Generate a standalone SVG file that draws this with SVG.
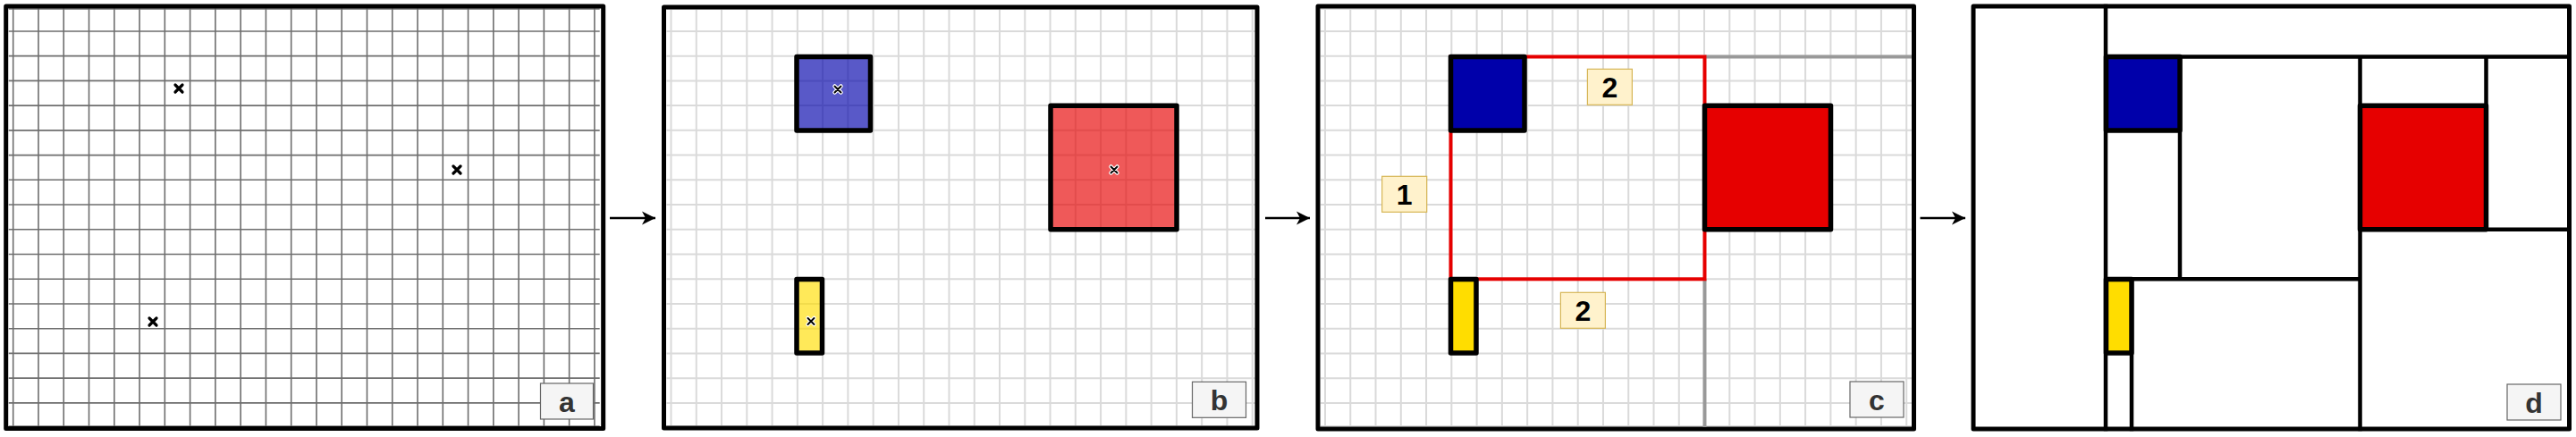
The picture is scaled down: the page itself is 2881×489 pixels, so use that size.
<svg xmlns="http://www.w3.org/2000/svg" xmlns:xlink="http://www.w3.org/1999/xlink" width="2881" height="489" viewBox="0 0 2881 489">
<style>
.panel{fill:none;stroke:#000;stroke-width:5;stroke-linejoin:round}
.gridA{fill:none;stroke:#6e6e6e;stroke-width:1.6}
.gridB{fill:none;stroke:#dadada;stroke-width:2}
.box{stroke:#000;stroke-width:5.5;stroke-linejoin:round}
.dline{stroke:#000;stroke-width:4.5;fill:none;stroke-linecap:square}
.lbl{fill:#f5f5f5;stroke:#666;stroke-width:1.2}
.lbltxt{font-family:"Liberation Sans",Arial,sans-serif;font-weight:bold;font-size:32px;fill:#333;text-anchor:middle}
.num{fill:#fff2cc;stroke:#d6b656;stroke-width:1.2}
.numtxt{font-family:"Liberation Sans",Arial,sans-serif;font-weight:bold;font-size:32px;fill:#000;text-anchor:middle}
.conn{stroke:#000;stroke-width:2.7;fill:none}
.xa{stroke:#000;stroke-width:3.2;stroke-linecap:round}
.xh{stroke:#fff;stroke-width:4.5;stroke-linecap:round}
.xb{stroke:#000;stroke-width:1.9;stroke-linecap:round}
</style>
<defs>
<path id="grid" d="M8,9V478M36.27,9V478M64.54,9V478M92.81,9V478M121.08,9V478M149.35,9V478M177.62,9V478M205.89,9V478M234.16,9V478M262.43,9V478M290.7,9V478M318.97,9V478M347.24,9V478M375.51,9V478M403.78,9V478M432.05,9V478M460.32,9V478M488.59,9V478M516.86,9V478M545.13,9V478M573.4,9V478M601.67,9V478M629.94,9V478M658.21,9V478M3,10H664M3,34.93H664M3,62.66H664M3,90.39H664M3,118.12H664M3,145.85H664M3,173.58H664M3,201.31H664M3,229.04H664M3,256.77H664M3,284.5H664M3,312.23H664M3,339.96H664M3,367.69H664M3,395.42H664M3,423.15H664M3,450.88H664M3,477H664"/>
<marker id="arr" markerUnits="userSpaceOnUse" markerWidth="17" markerHeight="17" refX="15" refY="8" orient="auto" overflow="visible">
<path d="M0,0.5L15,8L0,15.5L4,8Z" fill="#000"/>
</marker>
</defs>
<rect width="2881" height="489" fill="#fff"/>

<g id="panel-a">
<use xlink:href="#grid" href="#grid" x="6.7" y="0" class="gridA"/>
<rect class="panel" x="6.7" y="7" width="668" height="472.5"/>
<g id="a-points">
<path class="xa" d="M196,95L204,103M204,95L196,103"/>
<path class="xa" d="M507,186L515,194M515,186L507,194"/>
<path class="xa" d="M167,356L175,364M175,356L167,364"/>
</g>
<rect class="lbl" x="604.5" y="429" width="59" height="40"/>
<text class="lbltxt" x="634" y="461">a</text>
</g>

<g id="panel-b">
<use xlink:href="#grid" href="#grid" x="742.5" y="0" class="gridB"/>
<rect class="panel" x="742.5" y="8" width="663.5" height="471"/>
<rect id="b-blue" class="box" x="891" y="63.5" width="82.5" height="82.5" fill="#0000aa" fill-opacity="0.65"/>
<rect id="b-red" class="box" x="1175" y="118.3" width="141" height="138.4" fill="#e60000" fill-opacity="0.65"/>
<rect id="b-yellow" class="box" x="891" y="312.5" width="28.5" height="82.5" fill="#ffdd00" fill-opacity="0.65"/>
<g id="b-points">
<path class="xh" d="M933.5,96.5L940.5,103.5M940.5,96.5L933.5,103.5"/>
<path class="xb" d="M933.5,96.5L940.5,103.5M940.5,96.5L933.5,103.5"/>
<path class="xh" d="M1242.5,186.5L1249.5,193.5M1249.5,186.5L1242.5,193.5"/>
<path class="xb" d="M1242.5,186.5L1249.5,193.5M1249.5,186.5L1242.5,193.5"/>
<path class="xh" d="M903.5,356L910.5,363M910.5,356L903.5,363"/>
<path class="xb" d="M903.5,356L910.5,363M910.5,356L903.5,363"/>
</g>
<rect class="lbl" x="1333.5" y="427.3" width="60" height="40"/>
<text class="lbltxt" x="1363.5" y="459.3">b</text>
</g>

<g id="panel-c">
<use xlink:href="#grid" href="#grid" x="1474" y="0" class="gridB"/>
<rect class="panel" x="1474" y="7" width="666.5" height="473"/>
<path id="c-guides" d="M1906.5,63.5H2138M1906.5,312.3V478" stroke="#999" stroke-width="4" fill="none"/>
<rect id="c-region" x="1622.5" y="63.5" width="284" height="248.8" fill="none" stroke="#e60000" stroke-width="4"/>
<rect id="c-blue" class="box" x="1622.5" y="63.5" width="82.5" height="82.5" fill="#0000aa"/>
<rect id="c-red" class="box" x="1906.5" y="118.3" width="141" height="138.4" fill="#e60000"/>
<rect id="c-yellow" class="box" x="1622.5" y="312.5" width="28.5" height="82.5" fill="#ffdd00"/>
<g id="c-label-top">
<rect class="num" x="1775.4" y="77.3" width="50" height="40"/>
<text class="numtxt" x="1800.4" y="109.3">2</text>
</g>
<g id="c-label-left">
<rect class="num" x="1545.7" y="197.3" width="50" height="40"/>
<text class="numtxt" x="1570.7" y="229.3">1</text>
</g>
<g id="c-label-bottom">
<rect class="num" x="1745.4" y="327.3" width="50" height="40"/>
<text class="numtxt" x="1770.4" y="359.3">2</text>
</g>
<rect class="lbl" x="2069" y="427" width="60" height="40"/>
<text class="lbltxt" x="2099" y="459">c</text>
</g>

<g id="panel-d">
<rect x="2207" y="7" width="666.5" height="473" fill="#fff"/>
<path class="dline" d="M2355,7V480M2355,63.5H2873.5M2438,63.5V312.3M2355,312.3H2639.5M2639.5,63.5V480M2780.5,63.5V256.7M2639.5,256.7H2873.5M2384,312.3V480"/>
<rect id="d-blue" class="box" x="2355.5" y="63.5" width="82.5" height="82.5" fill="#0000aa"/>
<rect id="d-red" class="box" x="2639.5" y="118.3" width="141" height="138.4" fill="#e60000"/>
<rect id="d-yellow" class="box" x="2355.5" y="312.5" width="28.5" height="82.5" fill="#ffdd00"/>
<rect class="panel" x="2207" y="7" width="666.5" height="473"/>
<rect class="lbl" x="2804" y="430" width="60" height="40"/>
<text class="lbltxt" x="2834" y="462">d</text>
</g>

<g id="connectors">
<path class="conn" d="M682,244H733" marker-end="url(#arr)"/>
<path class="conn" d="M1415,244H1465" marker-end="url(#arr)"/>
<path class="conn" d="M2147.5,244H2198" marker-end="url(#arr)"/>
</g>
</svg>
